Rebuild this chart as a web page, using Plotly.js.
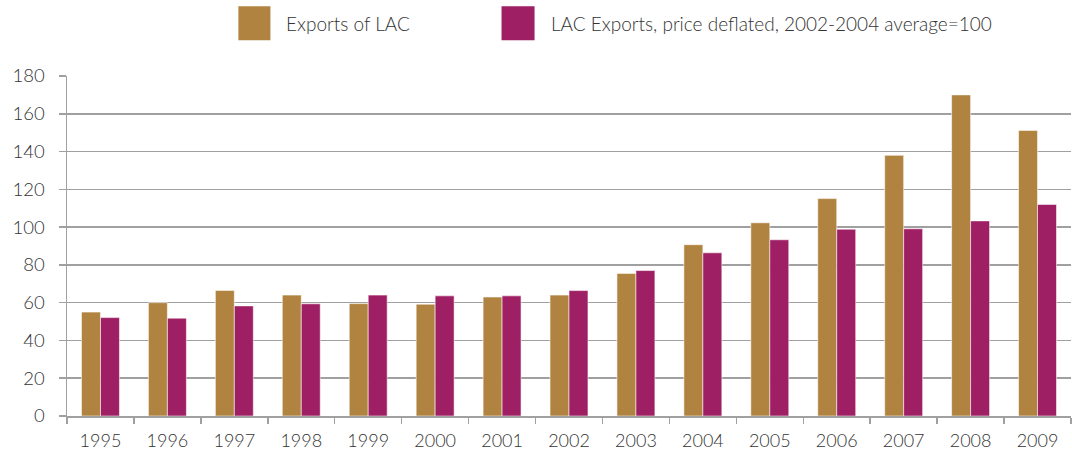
<!DOCTYPE html>
<html>
<head>
<meta charset="utf-8">
<script src="https://cdn.plot.ly/plotly-3.0.1.min.js"></script>
<style>html,body{margin:0;padding:0;background:#fff;}#chart{width:1072px;height:453px;}</style>
</head>
<body>
<div id="chart"></div>
<script>
const years = ['1995','1996','1997','1998','1999','2000','2001','2002','2003','2004','2005','2006','2007','2008','2009'];
const exportsLAC = [55, 60, 66.5, 64, 59.5, 59.2, 63, 64, 75.5, 90.7, 102.3, 115.1, 138, 170, 151.2];
const exportsDeflated = [52.1, 51.8, 58.3, 59.4, 64, 63.6, 63.6, 66.4, 77, 86.4, 93.3, 98.9, 99.1, 103.3, 112];
const seriesNames = ['Exports of LAC', 'LAC Exports, price deflated, 2002-2004 average=100'];
const colors = ['#B08440', '#9E1F63'];

const fontFam = 'Lato, "Open Sans", "Noto Sans", sans-serif';
const txt = '#333333';
const traces = [
  {type:'bar', x: years, y: exportsLAC, name: seriesNames[0], marker:{color: colors[0], line:{color:'rgba(255,255,255,0.55)', width:1}}, showlegend:false},
  {type:'bar', x: years, y: exportsDeflated, name: seriesNames[1], marker:{color: colors[1], line:{color:'rgba(255,255,255,0.55)', width:1}}, showlegend:false}
];

const layout = {
  width: 1072, height: 453,
  margin: {l: 67, r: 1, t: 76, b: 37},
  paper_bgcolor: '#fff', plot_bgcolor: '#fff',
  barmode: 'group', bargap: 0.433, bargroupgap: 0,
  font: {family: fontFam, size: 18, color: txt, weight: 300},
  xaxis: {type: 'category', showgrid: false, showline: true, linecolor: '#a0a0a0', linewidth: 1.5,
          ticks: 'outside', tickson: 'boundaries', ticklen: 6, tickcolor: '#a0a0a0', tickwidth: 1.5,
          ticklabelstandoff: 8,
          tickfont: {family: fontFam, size: 18, color: txt, weight: 300}, fixedrange: true},
  yaxis: {range: [0, 180], dtick: 20, showgrid: true, gridcolor: '#a0a0a0', gridwidth: 1.5,
          showline: true, linecolor: '#a0a0a0', linewidth: 1.5, zeroline: false,
          ticks: 'outside', ticklen: 7, tickcolor: '#a0a0a0', tickwidth: 1.5,
          ticklabelstandoff: 10,
          tickfont: {family: fontFam, size: 18.5, color: txt, weight: 300}, fixedrange: true},
  shapes: [
    {type:'rect', xref:'paper', yref:'paper', x0: 0.1707, x1: 0.2026, y0: 1.105, y1: 1.205, fillcolor: colors[0], line:{width:0}},
    {type:'rect', xref:'paper', yref:'paper', x0: 0.4328, x1: 0.4657, y0: 1.105, y1: 1.205, fillcolor: colors[1], line:{width:0}}
  ],
  annotations: [
    {xref:'paper', yref:'paper', x: 0.2165, y: 1.155, xanchor:'left', yanchor:'middle', showarrow:false, text: seriesNames[0], font:{family: fontFam, size: 19, color: txt, weight: 300}},
    {xref:'paper', yref:'paper', x: 0.4800, y: 1.155, xanchor:'left', yanchor:'middle', showarrow:false, text: seriesNames[1], font:{family: fontFam, size: 19, color: txt, weight: 300}}
  ]
};

Plotly.newPlot('chart', traces, layout, {displayModeBar: false, staticPlot: true});
</script>
</body>
</html>
